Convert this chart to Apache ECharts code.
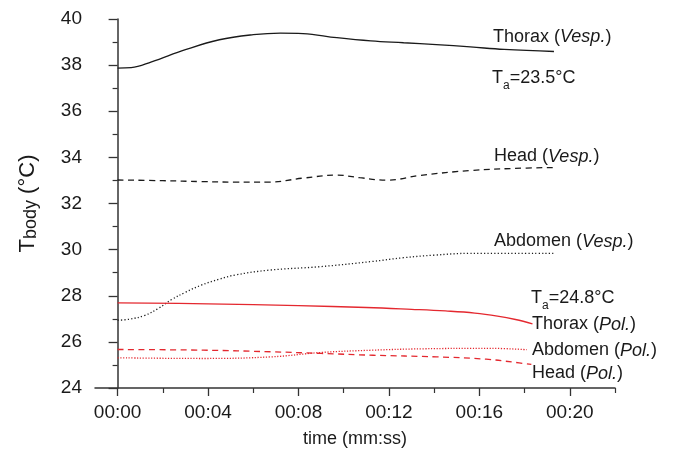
<!DOCTYPE html>
<html>
<head>
<meta charset="utf-8">
<script src="https://cdn.jsdelivr.net/npm/echarts@6/dist/echarts.min.js"></script>
<style>html,body{margin:0;padding:0;background:#fff}#c{width:673px;height:453px}</style>
</head>
<body>
<div id="c"></div>
<script>
// time in seconds, temperatures in °C
const tThoraxV = [0, 0.6, 1.5, 3, 4.5, 6, 7.2, 8.2, 9.7, 11.2, 12.65, 14.1, 15.6, 17.1, 19.3];
const vThoraxV = [37.87, 37.89, 38.14, 38.67, 39.10, 39.32, 39.39, 39.37, 39.19, 39.05, 38.97, 38.89, 38.79, 38.68, 38.59];

const tHeadV = [0, 2, 3.7, 5.2, 6.7, 8.2, 9.7, 10.7, 11.9, 13.4, 15.6, 17.5, 19.3];
const vHeadV = [33.02, 32.99, 32.95, 32.93, 32.93, 33.1, 33.23, 33.12, 33.01, 33.22, 33.43, 33.52, 33.56];

const tAbdV = [0, 0.5, 1.2, 1.8, 2.4, 3, 3.7, 4.5, 5.2, 6.7, 8.95, 11.2, 12.65, 14, 15.6, 19.3];
const vAbdV = [26.94, 26.98, 27.15, 27.45, 27.84, 28.15, 28.46, 28.72, 28.9, 29.11, 29.26, 29.48, 29.65, 29.76, 29.84, 29.84];

const tThoraxP = [0, 4, 8, 11, 13, 14.5, 15.8, 16.8, 17.6, 18.35];
const vThoraxP = [27.69, 27.65, 27.57, 27.49, 27.41, 27.34, 27.25, 27.12, 26.97, 26.78];

const tHeadP = [0, 3.8, 6.8, 9, 11.3, 14.1, 16.3, 17.5, 18.3];
const vHeadP = [25.67, 25.64, 25.57, 25.5, 25.42, 25.35, 25.25, 25.12, 25.02];

const tAbdP = [0, 3.8, 6.8, 9, 11.3, 13.5, 16.5, 18.1];
const vAbdP = [25.31, 25.28, 25.35, 25.54, 25.64, 25.7, 25.72, 25.66];

const xTickValues = [0, 4, 8, 12, 16, 20];
const xTickLabels = ['00:00', '00:04', '00:08', '00:12', '00:16', '00:20'];
const xMinorTicks = [2, 6, 10, 14, 18, 22];

const FONT = 'Liberation Sans';
const INK = '#1a1a1a';
const BLACK = '#1a1a1a';
const RED = '#e4282f';

function pts(t, v) { return t.map((x, i) => [x, v[i]]); }

function line(name, t, v, color, type) {
  return {
    name: name, type: 'line', xAxisIndex: 0, data: pts(t, v), smooth: 0.4,
    showSymbol: false, symbol: 'none', silent: true,
    lineStyle: { color: color, width: 1.3, type: type, cap: 'butt' }
  };
}

const chart = echarts.init(document.getElementById('c'), null, { renderer: 'canvas' });

const txt = (x, y, text) => ({
  type: 'text', x: x, y: y, silent: true,
  style: {
    text: text, fontFamily: FONT, fontSize: 18, fill: INK, verticalAlign: 'middle',
    rich: {
      i: { fontStyle: 'italic', fontFamily: FONT, fontSize: 18, fill: INK },
      s: { fontFamily: FONT, fontSize: 12, fill: INK, padding: [16, 0, 0, 0] }
    }
  }
});

chart.setOption({
  animation: false,
  backgroundColor: '#fff',
  grid: { left: 95, right: 58, top: 19, bottom: 65, containLabel: false },
  xAxis: [{
    type: 'value', min: -1, max: 22,
    name: 'time (mm:ss)', nameLocation: 'middle', nameGap: 42,
    nameTextStyle: { fontFamily: FONT, fontSize: 18, color: INK },
    axisLine: { show: true, onZero: false, lineStyle: { color: '#333', width: 1.5 } },
    axisTick: { show: true, length: 8, customValues: xTickValues, lineStyle: { color: '#333', width: 1.3 } },
    axisLabel: {
      customValues: xTickValues, margin: 15,
      fontFamily: FONT, fontSize: 19, color: INK,
      formatter: v => xTickLabels[xTickValues.indexOf(v)]
    },
    splitLine: { show: false }
  }, {
    type: 'value', min: -1, max: 22, position: 'bottom', gridIndex: 0,
    axisLine: { show: false, onZero: false },
    axisTick: { show: true, length: 5, customValues: xMinorTicks, lineStyle: { color: '#333', width: 1.2 } },
    axisLabel: { show: false },
    splitLine: { show: false }
  }],
  yAxis: {
    type: 'value', min: 24, max: 40, interval: 2,
    name: 'T{s|body} (°C)', nameLocation: 'middle', nameGap: 55, nameRotate: 90,
    nameTextStyle: {
      fontFamily: FONT, fontSize: 22, color: INK,
      rich: { s: { fontFamily: FONT, fontSize: 18, color: INK, padding: [7, 0, 0, 0] } }
    },
    axisLine: { show: true, lineStyle: { color: '#333', width: 1.5 } },
    axisTick: { show: true, length: 9, lineStyle: { color: '#333', width: 1.3 } },
    minorTick: { show: true, splitNumber: 2, length: 5, lineStyle: { color: '#333', width: 1.2 } },
    axisLabel: { margin: 13, fontFamily: FONT, fontSize: 19, color: INK },
    splitLine: { show: false }
  },
  series: [
    line('Thorax (Vesp.)', tThoraxV, vThoraxV, BLACK, 'solid'),
    line('Head (Vesp.)', tHeadV, vHeadV, BLACK, [6, 4.5]),
    line('Abdomen (Vesp.)', tAbdV, vAbdV, BLACK, [1.2, 2.2]),
    line('Thorax (Pol.)', tThoraxP, vThoraxP, RED, 'solid'),
    line('Head (Pol.)', tHeadP, vHeadP, RED, [6, 4.5]),
    line('Abdomen (Pol.)', tAbdP, vAbdP, RED, [1.2, 1.6])
  ],
  graphic: [
    txt(493, 37, 'Thorax ({i|Vesp.})'),
    txt(492, 78, 'T{s|a}=23.5°C'),
    txt(494, 156.5, 'Head ({i|Vesp.})'),
    txt(494, 241.5, 'Abdomen ({i|Vesp.})'),
    txt(531, 298, 'T{s|a}=24.8°C'),
    txt(532, 324.5, 'Thorax ({i|Pol.})'),
    txt(532, 350.5, 'Abdomen ({i|Pol.})'),
    txt(532, 373.5, 'Head ({i|Pol.})')
  ]
});
</script>
</body>
</html>
